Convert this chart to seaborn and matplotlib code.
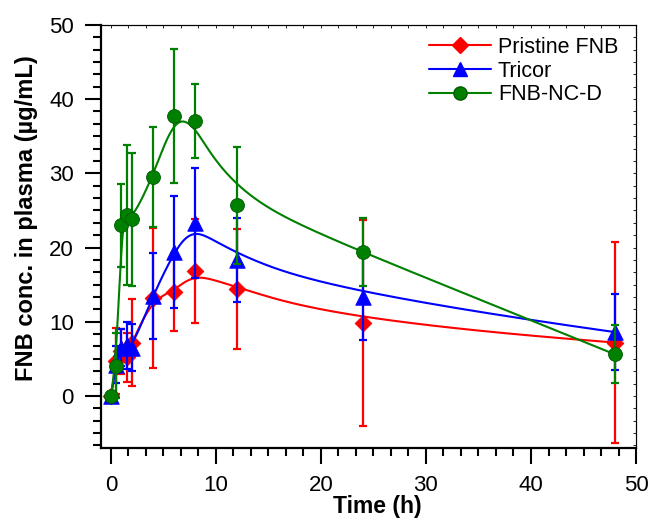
import numpy as np
import pandas as pd
import matplotlib
matplotlib.use("Agg")
import matplotlib.pyplot as plt
from matplotlib.lines import Line2D
from matplotlib.ticker import MultipleLocator, AutoMinorLocator
import seaborn as sns

# sampling times (h)
time = [0, 0.5, 1, 1.5, 2, 4, 6, 8, 12, 24, 48]

# mean plasma conc. (ug/mL) and SD for each formulation
pristine = [0, 4.7, 6.0, 5.2, 7.2, 13.2, 14.0, 16.8, 14.4, 9.8, 7.2]
pristine_sd = [0.3, 4.5, 3.0, 3.3, 5.8, 9.4, 5.2, 7.0, 8.1, 13.9, 13.5]

tricor = [0, 4.2, 6.5, 6.8, 6.5, 13.5, 19.4, 23.3, 18.3, 13.4, 8.6]
tricor_sd = [0.3, 2.5, 2.5, 3.2, 3.2, 5.8, 7.5, 7.4, 5.7, 5.8, 5.1]

nc_d = [0, 4.1, 23.0, 24.4, 23.8, 29.5, 37.7, 37.0, 25.7, 19.4, 5.6]
nc_d_sd = [0.3, 4.4, 5.6, 9.4, 9.0, 6.7, 9.0, 5.0, 7.9, 4.6, 3.9]

series = [
    ("Pristine FNB", pristine, pristine_sd, "#FF0000", "D", 72),
    ("Tricor", tricor, tricor_sd, "#0000FF", "^", 125),
    ("FNB-NC-D", nc_d, nc_d_sd, "#008000", "o", 100),
]


def bspline(xs, ys, n=500, k=3):
    # clamped uniform cubic B-spline using the data points as control points
    P = np.column_stack([xs, ys]).astype(float)
    m = len(P)
    knots = np.concatenate([np.zeros(k), np.arange(m - k + 1), np.full(k, m - k)]).astype(float)
    u = np.linspace(0, m - k, n)
    N = np.zeros((n, len(knots) - 1))
    for i in range(len(knots) - 1):
        N[:, i] = (u >= knots[i]) & (u < knots[i + 1])
    N[-1, :] = 0
    N[-1, m - 1] = 1
    for p in range(1, k + 1):
        Nn = np.zeros((n, len(knots) - 1 - p))
        for i in range(len(knots) - 1 - p):
            d1 = knots[i + p] - knots[i]
            d2 = knots[i + p + 1] - knots[i + 1]
            a = (u - knots[i]) / d1 * N[:, i] if d1 > 0 else 0
            b = (knots[i + p + 1] - u) / d2 * N[:, i + 1] if d2 > 0 else 0
            Nn[:, i] = a + b
        N = Nn
    return N @ P


sns.set_style("ticks")
plt.rcParams["font.family"] = ["Liberation Sans", "DejaVu Sans"]
plt.rcParams.update({"text.color": "black", "axes.labelcolor": "black",
                     "axes.edgecolor": "black", "xtick.color": "black",
                     "ytick.color": "black"})

fig = plt.figure(figsize=(6.51, 5.19), dpi=100)
ax = fig.add_axes([0.155, 0.137, 0.822, 0.815])

handles = []
for z, (name, vals, sd, col, mk, s) in enumerate(series):
    curve = bspline(time, vals)
    sns.lineplot(x=curve[:, 0], y=curve[:, 1], sort=False, estimator=None,
                 color=col, lw=1.5, ax=ax, zorder=2 + z * 3)
    ax.errorbar(time, vals, yerr=sd, fmt="none", ecolor=col, elinewidth=1.6,
                capsize=2.8, capthick=1.6, zorder=3 + z * 3)
    edge = "#005a00" if mk == "o" else col
    sns.scatterplot(x=time, y=vals, marker=mk, s=s, color=col, edgecolor=edge,
                    linewidth=0.6, ax=ax, zorder=4 + z * 3)
    handles.append(Line2D([], [], color=col, lw=1.5, marker=mk, markersize=np.sqrt(s) * 0.95,
                          markeredgecolor=edge, label=name))

ax.set_xlim(-0.95, 50)
ax.set_ylim(-7, 50)
ax.xaxis.set_major_locator(MultipleLocator(10))
ax.xaxis.set_minor_locator(AutoMinorLocator(6))
ax.yaxis.set_major_locator(MultipleLocator(10))
ax.yaxis.set_minor_locator(AutoMinorLocator(6))

for sp in ["left", "bottom"]:
    ax.spines[sp].set_linewidth(1.6)
for sp in ["top", "right"]:
    ax.spines[sp].set_linewidth(0.8)
ax.tick_params(which="major", direction="out", length=11.5, width=1.5, labelsize=16, pad=8)
ax.tick_params(which="minor", direction="out", length=5.5, width=1.5)

top = ax.secondary_xaxis("top")
top.xaxis.set_major_locator(MultipleLocator(10))
top.xaxis.set_minor_locator(AutoMinorLocator(6))
top.tick_params(which="both", direction="in", length=2, width=0.6, labeltop=False)
right = ax.secondary_yaxis("right")
right.yaxis.set_major_locator(MultipleLocator(10))
right.yaxis.set_minor_locator(AutoMinorLocator(6))
right.tick_params(which="both", direction="in", length=2, width=0.6, labelright=False)

ax.set_xlabel("Time (h)", fontsize=16.5, fontweight="bold")
ax.set_ylabel("FNB conc. in plasma (µg/mL)", fontsize=17, fontweight="bold")
ax.xaxis.set_label_coords(0.516, -0.112)
ax.yaxis.set_label_coords(-0.118, 0.543)

ax.legend(handles=handles, loc="upper right", bbox_to_anchor=(0.995, 1.007), frameon=False,
          fontsize=15.5, handlelength=2.9, handletextpad=0.3, labelspacing=0.12,
          borderaxespad=0.3)

fig.savefig("out.png", dpi=100)
